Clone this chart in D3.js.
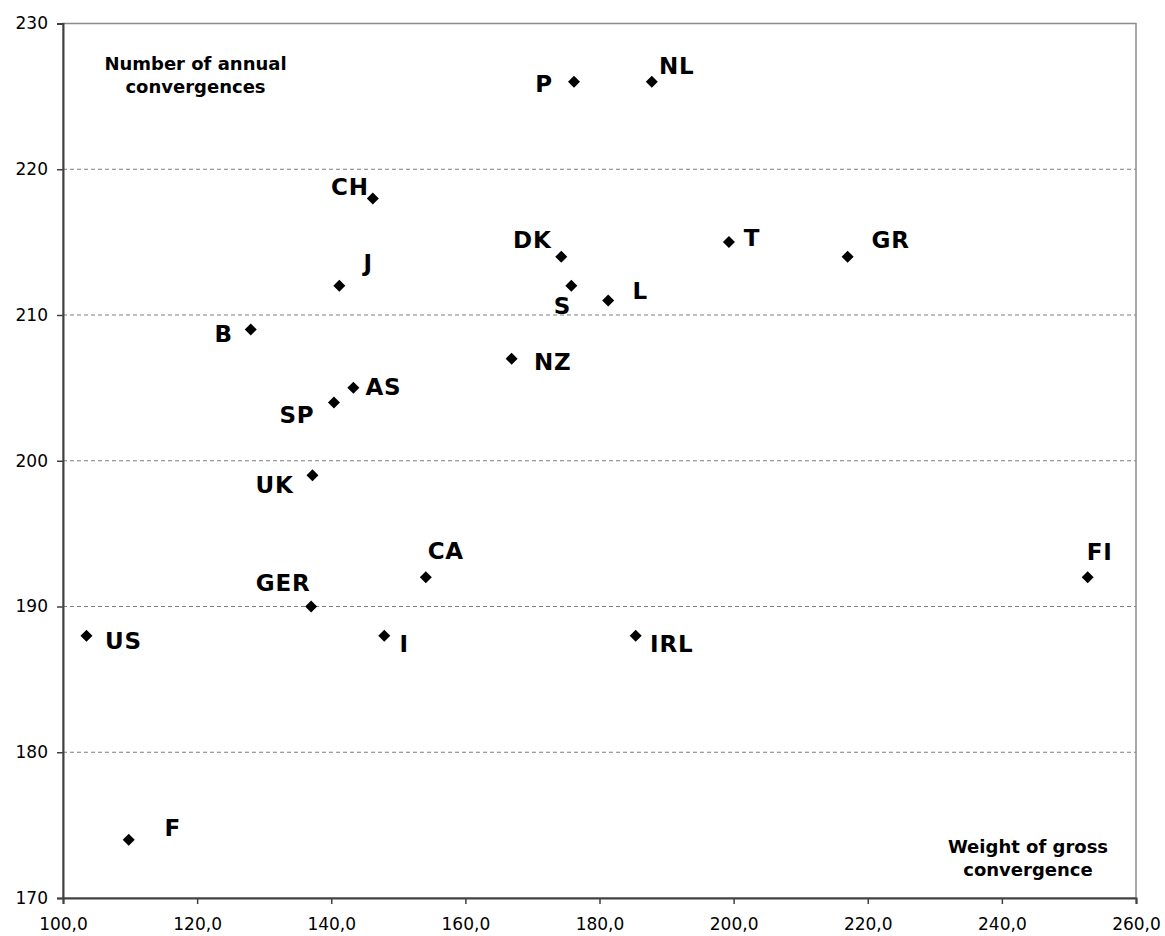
<!DOCTYPE html>
<html>
<head>
<meta charset="utf-8">
<script src="https://cdn.jsdelivr.net/npm/d3@7"></script>
<style>
  body { margin: 0; background: #fff; }
  svg { display: block; font-family: "DejaVu Sans", Verdana, sans-serif; }
</style>
</head>
<body>
<svg id="chart"></svg>
<script>
var width = 1165,
    height = 936;

// data
var countries = ["P", "NL", "CH", "DK", "T", "GR", "J", "S", "L", "B", "NZ", "AS", "SP", "UK", "CA", "FI", "GER", "US", "I", "IRL", "F"];
var grossWeight = [176.2, 187.8, 146.2, 174.3, 199.3, 217.0, 141.2, 175.8, 181.3, 128.0, 166.9, 143.3, 140.4, 137.2, 154.1, 252.8, 137.0, 103.5, 147.9, 185.4, 109.8];
var annualConv = [226, 226, 218, 214, 215, 214, 212, 212, 211, 209, 207, 205, 204, 199, 192, 192, 190, 188, 188, 188, 174];
var xTicks = [100, 120, 140, 160, 180, 200, 220, 240, 260];
var yTicks = [170, 180, 190, 200, 210, 220, 230];

// label placement relative to each marker (centre x, baseline y), in px
var labelOffset = {
  P: [-30, 10], NL: [25, -8], CH: [-23, -3], DK: [-29, -9], T: [23, 4],
  GR: [43, -9], J: [29, -15], S: [-9, 28], L: [32, -1], B: [-27, 12],
  NZ: [41, 11], AS: [30, 7], SP: [-37, 21], UK: [-38, 18], CA: [20, -18],
  FI: [12, -17], GER: [-28, -16], US: [37, 13], I: [20, 16], IRL: [36, 16],
  F: [44, -4]
};

var margin = {top: 23.5, right: 29, bottom: 38, left: 63};
var innerW = width - margin.left - margin.right,
    innerH = height - margin.top - margin.bottom;

var svg = d3.select("#chart")
    .attr("width", width)
    .attr("height", height);

var g = svg.append("g")
    .attr("transform", "translate(" + margin.left + "," + margin.top + ")");

var x = d3.scaleLinear().domain([100, 260]).range([0, innerW]);
var y = d3.scaleLinear().domain([170, 230]).range([innerH, 0]);

// gridlines
g.selectAll(".grid")
  .data(yTicks.filter(function(d) { return d > 170 && d < 230; }))
  .join("line")
  .attr("x1", 0)
  .attr("x2", innerW)
  .attr("y1", function(d) { return y(d); })
  .attr("y2", function(d) { return y(d); })
  .attr("stroke", "#7f7f7f")
  .attr("stroke-dasharray", "4,3");

// frame (top and right)
g.append("rect")
  .attr("width", innerW)
  .attr("height", innerH)
  .attr("fill", "none")
  .attr("stroke", "#8c8c8c")
  .attr("stroke-width", 1.5);

var xAxis = g.append("g")
  .attr("transform", "translate(0," + innerH + ")")
  .call(d3.axisBottom(x).tickValues(xTicks).tickSizeInner(6).tickSizeOuter(6).tickPadding(12)
    .tickFormat(function(d) { return d3.format(".1f")(d).replace(".", ","); }));

var yAxis = g.append("g")
  .call(d3.axisLeft(y).tickValues(yTicks).tickSizeInner(6).tickSizeOuter(6).tickPadding(9));

[xAxis, yAxis].forEach(function(a) {
  a.select(".domain").attr("stroke", "#404040").attr("stroke-width", 2);
  a.selectAll(".tick line").attr("stroke", "#404040").attr("stroke-width", 1.5);
  a.selectAll(".tick text")
    .attr("fill", "#000")
    .style("font-family", "'DejaVu Sans', Verdana, sans-serif")
    .style("font-size", "17px");
});
xAxis.selectAll(".tick text").attr("dy", "0.85em");

var points = countries.map(function(c, i) {
  return {name: c, gw: grossWeight[i], ac: annualConv[i]};
});

// diamonds
g.selectAll(".pt")
  .data(points)
  .join("path")
  .attr("d", d3.symbol(d3.symbolSquare, 72))
  .attr("transform", function(d) { return "translate(" + x(d.gw) + "," + y(d.ac) + ") rotate(45)"; })
  .attr("fill", "#000");

// country labels
g.selectAll(".lbl")
  .data(points)
  .join("text")
  .attr("x", function(d) { return x(d.gw) + labelOffset[d.name][0]; })
  .attr("y", function(d) { return y(d.ac) + labelOffset[d.name][1]; })
  .attr("text-anchor", "middle")
  .style("font-size", "23px")
  .style("font-weight", "bold")
  .style("letter-spacing", "0.8px")
  .text(function(d) { return d.name; });

// axis captions inside plot
var yCap = svg.append("text")
  .attr("text-anchor", "middle")
  .style("font-size", "18px")
  .style("font-weight", "bold");
yCap.append("tspan").attr("x", 195.5).attr("y", 70).text("Number of annual");
yCap.append("tspan").attr("x", 195.5).attr("y", 93).text("convergences");

var xCap = svg.append("text")
  .attr("text-anchor", "middle")
  .style("font-size", "18px")
  .style("font-weight", "bold");
xCap.append("tspan").attr("x", 1028).attr("y", 853).text("Weight of gross");
xCap.append("tspan").attr("x", 1028).attr("y", 876).text("convergence");
</script>
</body>
</html>
